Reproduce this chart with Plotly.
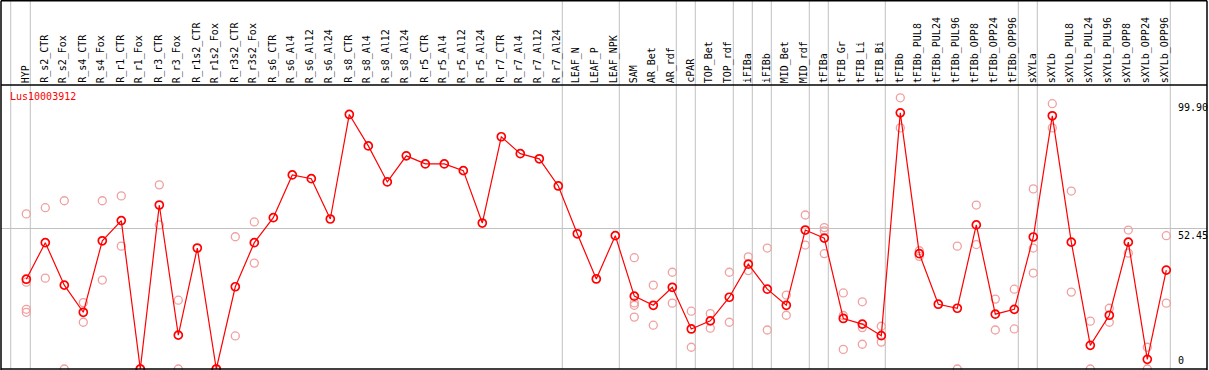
import plotly.graph_objects as go

categories = ["HYP", "R_s2_CTR", "R_s2_Fox", "R_s4_CTR", "R_s4_Fox", "R_r1_CTR", "R_r1_Fox",
              "R_r3_CTR", "R_r3_Fox", "R_r1s2_CTR", "R_r1s2_Fox", "R_r3s2_CTR", "R_r3s2_Fox",
              "R_s6_CTR", "R_s6_Al4", "R_s6_Al12", "R_s6_Al24", "R_s8_CTR", "R_s8_Al4",
              "R_s8_Al12", "R_s8_Al24", "R_r5_CTR", "R_r5_Al4", "R_r5_Al12", "R_r5_Al24",
              "R_r7_CTR", "R_r7_Al4", "R_r7_Al12", "R_r7_Al24", "LEAF_N", "LEAF_P", "LEAF_NPK",
              "SAM", "AR_Bet", "AR_rdf", "cPAR", "TOP_Bet", "TOP_rdf", "iFIBa", "iFIBb",
              "MID_Bet", "MID_rdf", "tFIBa", "tFIB_Gr", "tFIB_Li", "tFIB_Bi", "tFIBb",
              "tFIBb_PUL8", "tFIBb_PUL24", "tFIBb_PUL96", "tFIBb_OPP8", "tFIBb_OPP24", "tFIBb_OPP96",
              "sXYLa", "sXYLb", "sXYLb_PUL8", "sXYLb_PUL24", "sXYLb_PUL96", "sXYLb_OPP8",
              "sXYLb_OPP24", "sXYLb_OPP96"]

mean_values = [33.4, 47.0, 31.2, 21.1, 47.7, 55.2, 0.0, 61.0, 12.6, 45.0, 0.0, 30.6, 47.0,
               56.3, 72.2, 70.8, 55.8, 94.7, 83.0, 69.6, 79.3, 76.3, 76.3, 73.8, 54.3,
               86.4, 80.1, 78.2, 68.1, 50.3, 33.5, 49.6,
               27.1, 23.7, 30.4, 14.9, 17.9, 26.7, 39.0, 29.7, 23.7, 51.7, 48.7, 18.8, 16.7, 12.4,
               95.3, 42.9, 24.1, 22.6, 53.6, 20.4, 22.2,
               49.1, 94.2, 47.2, 8.8, 20.0, 47.2, 3.6, 36.8]

replicate_values = [
    [57.7, 32.3, 22.2, 21.1], [60.0, 33.8], [62.6, 0.0], [24.7, 17.4], [62.6, 33.1],
    [64.4, 45.7], [0.0, 0.0], [68.5, 53.6], [25.6, 0.0], [], [0.0, 0.0], [49.2, 12.3],
    [54.7, 39.4],
    [], [], [], [], [], [], [], [], [], [], [], [], [], [], [], [], [], [], [],
    [41.4, 24.6, 23.7, 19.3], [31.2, 16.3], [36.0, 24.5], [21.5, 8.1], [20.6, 15.2],
    [36.0, 17.4], [41.7, 36.6], [45.0, 14.5], [27.5, 20.0], [57.3, 46.1],
    [52.6, 51.4, 42.9], [28.3, 19.9, 7.3], [25.0, 15.4, 9.2], [15.9, 10.0],
    [100.9, 89.7], [44.0, 41.9], [], [45.7, 0.0], [61.0, 46.3], [26.0, 14.5], [29.7, 14.9],
    [67.0, 45.0, 35.7], [98.7, 89.7], [66.2, 28.6], [17.8, 0.0], [22.6, 17.4], [51.7, 43.1],
    [8.1, 0.0], [49.6, 24.5],
]

group_sizes = [1, 28, 3, 3, 1, 2, 1, 1, 2, 1, 3, 7, 1, 7]
ytick_vals = [0, 52.45, 99.90]
ytick_text = ["0", "52.45", "99.90"]
gene_name = "Lus10003912"

# ---- layout geometry ----
W, H = 1209, 370
ML, MR, MT, MB = 1, 2, 85, 1
plot_w = W - ML - MR
plot_h = H - MT - MB
step_px = 19.0
first_px = 26.3
x0 = -(first_px - ML) / step_px
x1 = x0 + plot_w / step_px
px_per_unit = 2.688
y_top = plot_h / px_per_unit
header_top = 1 + (MT - 0.75) / plot_h

FONT = "DejaVu Sans Mono"
RED = "#ff0000"
PINK = "#f0a0a0"
GRID = "#c0c0c0"

xs = list(range(len(categories)))
rep_x, rep_y = [], []
for i, reps in enumerate(replicate_values):
    for v in reps:
        rep_x.append(i)
        rep_y.append(v)

fig = go.Figure()
fig.add_trace(go.Scatter(x=rep_x, y=rep_y, mode="markers",
                         marker=dict(symbol="circle-open", size=8, color=PINK,
                                     line=dict(width=1.3, color=PINK)),
                         hoverinfo="skip", showlegend=False, cliponaxis=False))
fig.add_trace(go.Scatter(x=xs, y=mean_values, mode="lines+markers",
                         line=dict(color=RED, width=1.2),
                         marker=dict(symbol="circle-open", size=8, color=RED,
                                     line=dict(width=1.7, color=RED)),
                         showlegend=False, cliponaxis=False,
                         text=categories))


def to_paper_x(v):
    return (v - x0) / (x1 - x0)


shapes = []
# group boundaries
bounds = [-1 + 0.18]
acc = 0
for g in group_sizes:
    acc += g
    bounds.append(acc - 1 + 0.21)
for b in bounds:
    px = to_paper_x(b)
    shapes.append(dict(type="line", xref="paper", yref="paper", x0=px, x1=px,
                       y0=0, y1=header_top, line=dict(color=GRID, width=1), layer="below"))
# header separator line and outer frame
shapes.append(dict(type="line", xref="paper", yref="paper", x0=0, x1=1, y0=1, y1=1,
                   line=dict(color="black", width=1.5)))
shapes.append(dict(type="line", xref="paper", yref="paper", x0=0, x1=1,
                   y0=header_top, y1=header_top, line=dict(color="black", width=1.5)))
shapes.append(dict(type="line", xref="paper", yref="paper", x0=0, x1=0, y0=-0.01,
                   y1=header_top, line=dict(color="black", width=1.5)))
shapes.append(dict(type="line", xref="paper", yref="paper", x0=1, x1=1, y0=-0.01,
                   y1=header_top, line=dict(color="black", width=1.5)))
shapes.append(dict(type="line", xref="paper", yref="paper", x0=0, x1=1, y0=0, y1=0,
                   line=dict(color="black", width=1.5)))

annotations = []
for i, c in enumerate(categories):
    annotations.append(dict(x=i, y=1, xref="x", yref="paper", text=c, textangle=-90,
                            showarrow=False, xanchor="center", yanchor="bottom",
                            xshift=-1, yshift=0, font=dict(family=FONT, size=10, color="black")))
annotations.append(dict(x=7 / plot_w, y=1 - (97 - MT) / plot_h,
                        xref="paper", yref="paper", text=gene_name, showarrow=False,
                        xanchor="left", yanchor="middle",
                        font=dict(family=FONT, size=10, color=RED)))
lab_x = (1178 - ML) / plot_w
for v, t in zip(ytick_vals, ytick_text):
    annotations.append(dict(x=lab_x, y=v, xref="paper", yref="y", text=t, showarrow=False,
                            xanchor="left", yanchor=("bottom" if v == 0 else "top"),
                            xshift=-2, yshift=(1 if v == 0 else 0),
                            font=dict(family=FONT, size=10, color="black")))

fig.update_layout(
    width=W, height=H,
    margin=dict(l=ML, r=MR, t=MT, b=MB, pad=0, autoexpand=False),
    paper_bgcolor="white", plot_bgcolor="white",
    xaxis=dict(range=[x0, x1], showgrid=False, zeroline=False, showticklabels=False,
               showline=False, ticks="", automargin=False),
    yaxis=dict(range=[0, y_top], tickvals=[52.45], showgrid=True, gridcolor=GRID,
               gridwidth=1, zeroline=False, showticklabels=False, showline=False, ticks="",
               automargin=False),
    shapes=shapes, annotations=annotations,
    font=dict(family=FONT, size=10),
)

fig.write_html("out.html", config={"displayModeBar": False},
               post_script="document.body.style.margin='0';document.body.style.padding='0';")
